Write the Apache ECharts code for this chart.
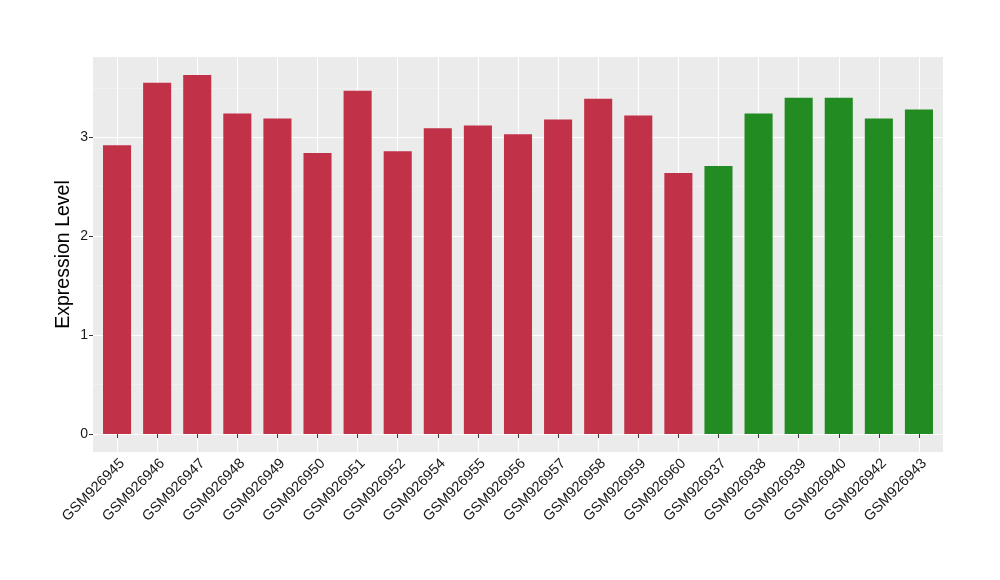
<!DOCTYPE html>
<html>
<head>
<meta charset="utf-8">
<script src="https://cdn.jsdelivr.net/npm/echarts@6/dist/echarts.min.js"></script>
<style>html,body{margin:0;padding:0;background:#fff;}#c{width:1000px;height:580px;}</style>
</head>
<body>
<div id="c"></div>
<script>
const categories = ["GSM926945","GSM926946","GSM926947","GSM926948","GSM926949","GSM926950","GSM926951","GSM926952","GSM926954","GSM926955","GSM926956","GSM926957","GSM926958","GSM926959","GSM926960","GSM926937","GSM926938","GSM926939","GSM926940","GSM926942","GSM926943"];
const values = [2.92,3.55,3.63,3.24,3.19,2.84,3.47,2.86,3.09,3.12,3.03,3.18,3.39,3.22,2.64,2.71,3.24,3.40,3.40,3.19,3.28];
const groups = ["a","a","a","a","a","a","a","a","a","a","a","a","a","a","a","b","b","b","b","b","b"];
const groupColors = {a: "#C13148", b: "#228B22"};
const yTicks = [0,1,2,3];
const yMinorTicks = [0.5,1.5,2.5,3.5];
const yMin = -0.1815, yMax = 3.8115;

const chart = echarts.init(document.getElementById('c'), null, {renderer: 'canvas'});
const font = "'Liberation Sans', Arial, Helvetica, sans-serif";
chart.setOption({
  animation: false,
  grid: [
    {left: 93, right: 57, top: 57, bottom: 128, show: true, backgroundColor: '#EBEBEB', borderWidth: 0},
    {left: 97, right: 61, top: 57, bottom: 128, show: false}
  ],
  xAxis: [{
    type: 'value', gridIndex: 0, min: 0, max: 1, show: false
  },{
    type: 'category',
    gridIndex: 1,
    data: categories,
    axisLine: {show: false},
    axisTick: {show: true, alignWithLabel: true, length: 4, lineStyle: {color: '#333', width: 1}},
    splitLine: {show: true, alignWithLabel: true, lineStyle: {color: '#FFFFFF', width: 1.1}},
    axisLabel: {rotate: 45, fontSize: 14.5, color: '#1a1a1a', fontFamily: font, margin: 4, interval: 0, verticalAlign: 'top'}
  }],
  yAxis: [{
    type: 'value',
    gridIndex: 0,
    min: yMin, max: yMax,
    name: 'Expression Level',
    nameLocation: 'middle',
    nameGap: 19,
    nameMoveOverlap: false,
    nameRotate: 90,
    nameTextStyle: {fontSize: 19.5, color: '#000', fontFamily: font},
    axisLine: {show: false},
    axisTick: {show: true, length: 4, customValues: yTicks, lineStyle: {color: '#333', width: 1}},
    axisLabel: {customValues: yTicks, fontSize: 14, color: '#1a1a1a', fontFamily: font, margin: 5},
    splitLine: {show: true, lineStyle: {color: '#FFFFFF', width: 1.1}}
  },{
    type: 'value',
    gridIndex: 0,
    min: yMin, max: yMax,
    position: 'left',
    axisLine: {show: false},
    axisTick: {show: false, customValues: yMinorTicks},
    axisLabel: {show: false, customValues: yMinorTicks},
    splitLine: {show: true, lineStyle: {color: '#F5F5F5', width: 0.6}}
  },{
    type: 'value',
    gridIndex: 1,
    min: yMin, max: yMax,
    show: false,
    splitLine: {show: false}
  }],
  series: [{
    type: 'bar',
    xAxisIndex: 1,
    yAxisIndex: 2,
    barCategoryGap: '30%',
    data: values.map((v, i) => ({value: v, itemStyle: {color: groupColors[groups[i]]}})),
    z: 3
  }]
});
</script>
</body>
</html>
